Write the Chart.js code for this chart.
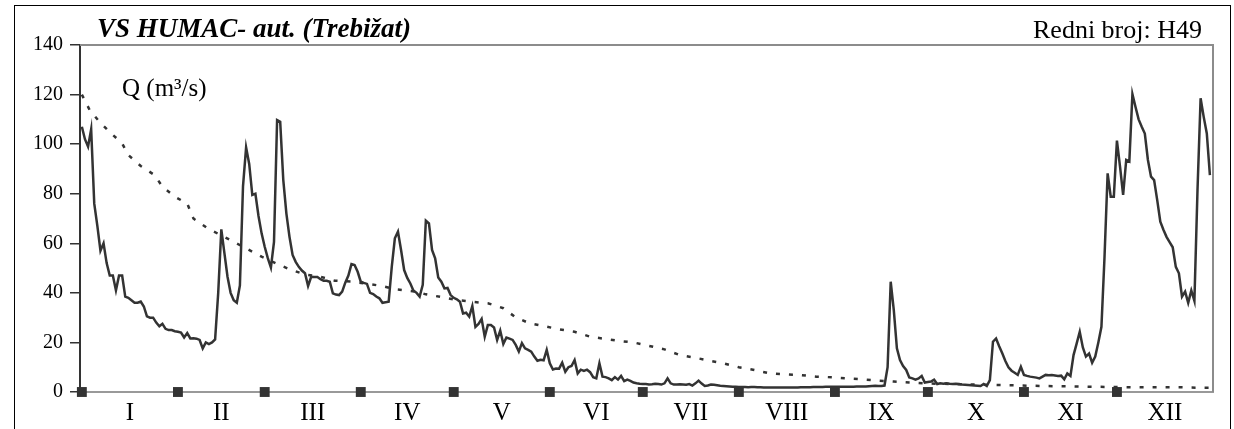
<!DOCTYPE html>
<html>
<head>
<meta charset="utf-8">
<script src="https://cdn.jsdelivr.net/npm/chart.js@4.4.1/dist/chart.umd.min.js"></script>
<style>
  html, body { margin: 0; padding: 0; background: #fff; overflow: hidden; }
  #wrap { position: relative; width: 1234px; height: 429px; }
  #frame { position: absolute; left: 14px; top: 5px; width: 1215px; height: 440px; border: 1.5px solid #000; pointer-events: none; }
</style>
</head>
<body>
<div id="wrap">
  <canvas id="chart" width="1234" height="429"></canvas>
  <div id="frame"></div>
</div>
<script>
// dnevni protoci (m3/s), po mjesecima
const qJan = [107, 102, 99, 106, 76, 67, 57, 60, 52, 47, 47, 41, 47, 47, 38.5, 38, 37, 36, 36, 36.5, 34.5, 30.5, 30, 30, 28, 26.5, 27.5, 25.5, 25, 25, 24.5];
const qFeb = [24.3, 24, 22, 23.8, 21.6, 21.7, 21.5, 21, 17.6, 20, 19.3, 20, 21.2, 40, 65.6, 56, 46.5, 40, 37, 36, 43, 83, 98.7, 92, 79.5, 80, 71, 64];
const qMar = [58.6, 54, 50.2, 60.6, 109.7, 109, 85.5, 72, 62.6, 55.3, 52.5, 50.5, 49, 47.9, 42.8, 46.5, 46.4, 46.4, 45.5, 44.9, 44.9, 44.5, 39.8, 39.3, 39.1, 40.5, 44.1, 47, 51.6, 51.2, 48.5];
const qApr = [44.5, 44, 43.6, 40, 39.5, 38.5, 37.8, 36, 36.2, 36.4, 50.5, 62, 64.7, 57.3, 49.2, 46, 43.8, 40.9, 40, 38.5, 43.2, 69.1, 68, 57.3, 53.9, 46.2, 44.5, 41.8, 42, 39.1];
const qMay = [38, 37.4, 36.4, 31.7, 32, 30.4, 34.7, 26.3, 27.5, 29.5, 22.3, 27, 27, 26, 21, 24.8, 19.4, 22, 21.5, 21, 19, 16.3, 19.7, 17.6, 17, 16.3, 14.3, 12.6, 13, 12.8, 17];
const qJun = [11.6, 9.1, 9.5, 9.4, 11.8, 8.2, 10, 10.5, 12.9, 7.5, 9, 8.5, 9, 8, 6, 5.5, 11.6, 6.2, 6, 5.5, 4.8, 6, 5, 6.5, 4.4, 5, 4.5, 3.8, 3.5, 3.3];
const qJul = [3.2, 3.2, 3, 3.1, 3.3, 3.2, 3, 3.5, 5.5, 3.5, 3, 3, 3.1, 3, 2.9, 3.2, 2.6, 3.5, 4.6, 3.4, 2.4, 2.6, 3, 2.9, 2.7, 2.5, 2.4, 2.3, 2.2, 2.1, 2.1];
const qAug = [2, 2, 2, 1.9, 2, 2, 1.9, 1.9, 1.8, 1.8, 1.8, 1.8, 1.8, 1.8, 1.8, 1.8, 1.8, 1.8, 1.8, 1.8, 1.9, 1.9, 1.9, 1.9, 2, 2, 2, 2, 2.1, 2.1, 2.1];
const qSep = [2.1, 2.1, 2.1, 2.1, 2.1, 2.1, 2.1, 2.2, 2.2, 2.2, 2.2, 2.3, 2.4, 2.5, 2.4, 2.4, 2.6, 10, 44.5, 33, 17.6, 12.9, 10.5, 8.9, 5.9, 5.5, 5, 5.5, 6.5, 3.8];
const qOct = [4, 4.2, 5, 3.2, 3.5, 3.3, 3.5, 3.3, 3.2, 3.3, 3.2, 3, 2.9, 2.8, 2.7, 2.6, 2.5, 2.4, 3.2, 2.4, 4.8, 20.3, 21.6, 18.5, 15.6, 12.5, 10, 8.6, 7.8, 6.9, 10.2];
const qNov = [6.9, 6.5, 6.2, 6, 5.8, 5.5, 6.2, 6.9, 6.8, 6.9, 6.7, 6.5, 6.6, 5.1, 7.5, 6.5, 14.9, 19.5, 24.3, 18, 14.3, 15.5, 11.8, 14.3, 20, 26.3, 54.6, 88.2, 78.8, 78.8];
const qDec = [101.4, 90.9, 79.5, 93.6, 93, 120.2, 115, 110, 107, 104.3, 93.6, 86.9, 85.5, 77.4, 68.7, 65.5, 62.6, 60.5, 58.4, 50.5, 47.9, 38.5, 40.5, 36, 41, 36.8, 81.5, 118.5, 111, 104.3, 87.5];

// kriva trajanja (dan, Q)
const durDays = [0, 2.5, 5.7, 9.5, 13, 15, 19, 23.5, 26, 30, 34, 36, 40.6, 49, 53.5, 58, 62.7, 67, 72, 77, 81.6, 87.5, 96.7, 101.5, 108, 111, 116.5, 121, 126, 131, 136, 140, 144.5, 149, 154, 159, 164, 169, 173.5, 178, 183, 188, 193, 198, 202.6, 207, 212, 217, 222, 227, 231.6, 237, 242.6, 247, 252, 257, 262, 267, 271.6, 281, 296, 311, 326.5, 341.5, 354, 361, 364];
const durQ = [120, 113.8, 109, 104.3, 100.3, 95.6, 91.2, 87.5, 82.8, 78.8, 76, 70, 66, 60.6, 57.6, 54.6, 51.9, 49.5, 47.4, 46.5, 44.9, 44.5, 42.8, 41.4, 40.5, 39.4, 38.2, 37.1, 36.4, 35.8, 33.8, 30.1, 27.7, 26.6, 25.3, 24.3, 22.3, 21.4, 20.6, 20, 18.6, 17.2, 14.9, 13.8, 12.6, 11.6, 10, 8.9, 7.5, 7.1, 6.9, 6.2, 5.9, 5.5, 5.1, 4.6, 4.2, 3.8, 3.5, 3.2, 2.8, 2.4, 2.1, 1.9, 1.9, 1.7, 1.7];

const months = ['I', 'II', 'III', 'IV', 'V', 'VI', 'VII', 'VIII', 'IX', 'X', 'XI', 'XII'];
const monthLen = [31, 28, 31, 30, 31, 30, 31, 31, 30, 31, 30, 31];
const yTicks = [0, 20, 40, 60, 80, 100, 120, 140];

const daily = [].concat(qJan, qFeb, qMar, qApr, qMay, qJun, qJul, qAug, qSep, qOct, qNov, qDec);
const monthStart = [];
const monthMid = [];
let acc = 0;
monthLen.forEach(function (n) {
    monthStart.push(acc);
    monthMid.push(acc + n / 2);
    acc += n;
});

const serif = '"Liberation Serif", "Times New Roman", serif';

const decor = {
    id: 'decor',
    beforeDatasetsDraw(chart) {
        const a = chart.chartArea;
        const ctx = chart.ctx;
        ctx.save();
        ctx.strokeStyle = '#8c8c8c';
        ctx.lineWidth = 2;
        ctx.beginPath();
        ctx.moveTo(a.left, a.top);
        ctx.lineTo(a.right, a.top);
        ctx.lineTo(a.right, a.bottom);
        ctx.stroke();
        ctx.restore();
    },
    afterDraw(chart) {
        const ctx = chart.ctx;
        ctx.save();
        ctx.fillStyle = '#000';
        ctx.textBaseline = 'alphabetic';
        ctx.font = 'italic bold 27px ' + serif;
        ctx.textAlign = 'left';
        ctx.fillText('VS HUMAC- aut. (Trebižat)', 97, 37);
        ctx.font = '26px ' + serif;
        ctx.textAlign = 'right';
        ctx.fillText('Redni broj: H49', 1202, 38);
        ctx.font = '25px ' + serif;
        ctx.textAlign = 'left';
        ctx.fillText('Q (m³/s)', 122, 96);
        ctx.restore();
    }
};

var ctx = document.getElementById('chart').getContext('2d');

var myChart = new Chart(ctx, {
    type: 'line',
    data: {
        datasets: [{
            label: 'Q',
            data: daily.map(function (v, i) { return {x: i, y: v}; }),
            borderColor: '#333',
            borderWidth: 2.5,
            pointRadius: 0,
            tension: 0
        }, {
            label: 'trajanje',
            data: durDays.map(function (d, i) { return {x: d, y: durQ[i]}; }),
            borderColor: '#333',
            borderWidth: 2.5,
            borderDash: [4, 9],
            pointRadius: 0,
            tension: 0
        }, {
            label: 'mjeseci',
            data: monthStart.map(function (d) { return {x: d, y: 0}; }),
            showLine: false,
            clip: false,
            pointStyle: 'rect',
            pointRadius: 7,
            pointBorderWidth: 0,
            pointBackgroundColor: '#333',
            borderColor: '#333'
        }]
    },
    options: {
        responsive: false,
        animation: false,
        devicePixelRatio: 1,
        layout: { padding: { left: 0, right: 21, top: 45, bottom: 0 } },
        plugins: { legend: { display: false }, tooltip: { enabled: false } },
        scales: {
            x: {
                type: 'linear',
                min: -0.6,
                max: 365,
                afterFit: function (s) { s.height = 37; },
                afterBuildTicks: function (s) { s.ticks = monthMid.map(function (v) { return {value: v}; }); },
                grid: { display: false },
                border: { color: '#999', width: 2 },
                ticks: {
                    autoSkip: false,
                    maxRotation: 0,
                    padding: -2,
                    color: '#000',
                    font: { family: serif, size: 25 },
                    callback: function (v, i) { return months[i]; }
                }
            },
            y: {
                min: 0,
                max: 140,
                afterFit: function (s) { s.width = 80; },
                afterBuildTicks: function (s) { s.ticks = yTicks.map(function (v) { return {value: v}; }); },
                grid: { drawOnChartArea: false, tickLength: 10, color: '#333', lineWidth: 1.5 },
                border: { color: '#333', width: 2 },
                ticks: {
                    padding: 7,
                    color: '#000',
                    font: { family: serif, size: 20 }
                }
            }
        }
    },
    plugins: [decor]
});
</script>
</body>
</html>
